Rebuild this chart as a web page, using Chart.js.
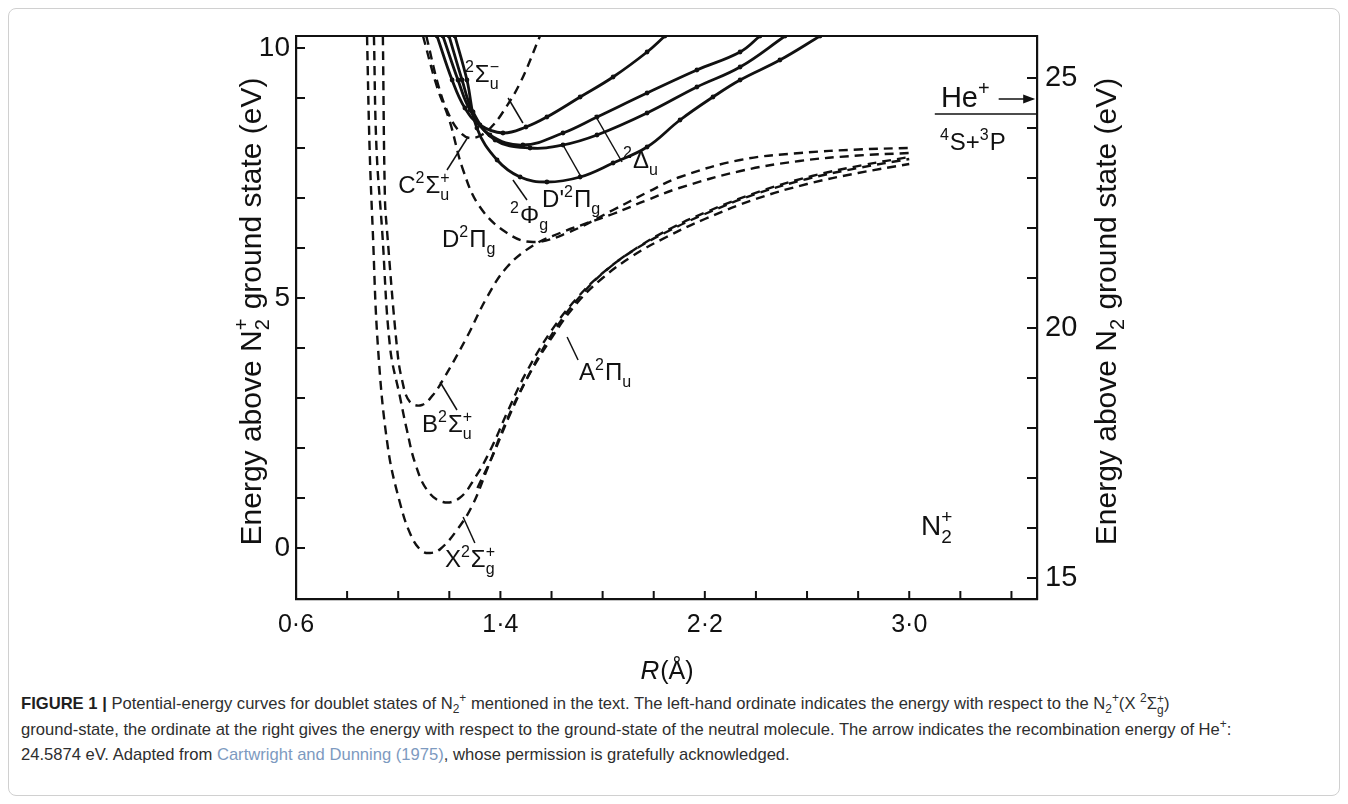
<!DOCTYPE html>
<html lang="en">
<head>
<meta charset="UTF-8">
<title>Potential-energy curves for doublet states of N2+</title>
<script src="https://cdn.jsdelivr.net/npm/chart.js@4.4.0/dist/chart.umd.js"></script>
<style>
  html, body { margin: 0; padding: 0; background: #fff; }
  body { width: 1348px; height: 804px; position: relative; overflow: hidden; font-family: "Liberation Sans", Arial, sans-serif; }
  #frame { position: absolute; left: 8px; top: 8px; width: 1332px; height: 788px; border: 1px solid #d0d0d0; border-radius: 8px; box-sizing: border-box; }
  #chart { position: absolute; left: 0; top: 0; }
  #caption { position: absolute; left: 21px; top: 691px; font-size: 16.6px; line-height: 25px; color: #2e2e2e; white-space: nowrap; }
  #caption b { color: #1f1f1f; }
  #caption a { color: #7d9ac0; text-decoration: none; }
  #caption sub, #caption sup { font-size: 72%; line-height: 0; }
  .stack { display: inline-block; vertical-align: -0.45em; line-height: 0.95em; font-size: 72%; text-align: left; }
  .stack span { display: block; }
</style>
</head>
<body>
<div id="frame"></div>
<canvas id="chart" width="1348" height="690"></canvas>
<div id="caption">
  <b>FIGURE 1 |</b> Potential-energy curves for doublet states of N<sub>2</sub><sup>+</sup> mentioned in the text. The left-hand ordinate indicates the energy with respect to the N<sub>2</sub><sup>+</sup>(X <sup>2</sup>Σ<span class="stack"><span>+</span><span>g</span></span>)<br>
  ground-state, the ordinate at the right gives the energy with respect to the ground-state of the neutral molecule. The arrow indicates the recombination energy of He<sup>+</sup>:<br>
  24.5874 eV. Adapted from <a>Cartwright and Dunning (1975)</a>, whose permission is gratefully acknowledged.
</div>

<script>
    const FONT = '"Liberation Sans", Arial, sans-serif';
    const INK = '#111';

    // axis ranges (R in Å, energy in eV above N2+ ground state)
    const rMin = 0.6, rMax = 3.5;
    const eMin = -1.02, eMax = 10.24;
    const ionOffset = 15.6;   // N2+ ground state above N2 ground state

    // tick marks and labels
    const rTicks = [0.6, 0.8, 1.0, 1.2, 1.4, 1.6, 1.8, 2.0, 2.2, 2.4, 2.6, 2.8, 3.0, 3.2, 3.4];
    const rLabelled = [0.6, 1.4, 2.2, 3.0];
    const rLabels = ['0·6', '1·4', '2·2', '3·0'];
    const eTicks = [0, 1, 2, 3, 4, 5, 6, 7, 8, 9, 10];
    const eLabelled = [0, 5, 10];
    const e2Ticks = [15, 16, 17, 18, 19, 20, 21, 22, 23, 24, 25];
    const e2Labelled = [15, 20, 25];

    // dashed curves [R, E]
    const curveX = [[0.878, 10.24], [0.888, 8.0], [0.9, 6.4], [0.921, 4.0], [0.96, 2.0], [1.007, 0.9], [1.05, 0.25],
        [1.09, -0.05], [1.125, -0.1], [1.165, -0.02], [1.23, 0.36], [1.29, 0.85], [1.35, 1.6], [1.42, 2.5],
        [1.5, 3.35], [1.6, 4.2], [1.7, 4.9], [1.8, 5.4], [1.92, 5.85], [2.05, 6.22], [2.2, 6.58], [2.4, 6.98],
        [2.6, 7.28], [2.8, 7.5], [3.0, 7.68]];
    const curveA = [[0.905, 10.24], [0.915, 8.0], [0.937, 6.36], [0.968, 4.02], [1.007, 3.02], [1.034, 2.36],
        [1.066, 1.7], [1.113, 1.16], [1.175, 0.92], [1.24, 1.0], [1.3, 1.4], [1.36, 1.95], [1.43, 2.75], [1.5, 3.5],
        [1.6, 4.35], [1.7, 5.0], [1.8, 5.5], [1.92, 5.95], [2.05, 6.32], [2.2, 6.68], [2.4, 7.08], [2.6, 7.38],
        [2.8, 7.6], [3.0, 7.78]];
    const curveA2 = [[1.31, 1.2], [1.37, 1.85], [1.44, 2.7], [1.52, 3.55], [1.62, 4.42], [1.72, 5.08], [1.82, 5.58],
        [1.94, 6.02], [2.07, 6.4], [2.22, 6.75], [2.42, 7.14], [2.62, 7.44], [2.82, 7.66], [3.0, 7.82]];
    const curveB = [[0.94, 10.24], [0.948, 7.0], [0.956, 6.36], [0.995, 4.02], [1.015, 3.36], [1.046, 2.92],
        [1.093, 2.86], [1.136, 3.06], [1.175, 3.36], [1.269, 4.22], [1.348, 5.02], [1.426, 5.62], [1.528, 6.05],
        [1.633, 6.3], [1.74, 6.5], [1.84, 6.68], [1.97, 6.95], [2.1, 7.2], [2.34, 7.54], [2.57, 7.74], [2.8, 7.85],
        [3.0, 7.9]];
    const curveD = [[1.097, 10.24], [1.152, 9.22], [1.2, 8.56], [1.254, 7.56], [1.32, 6.82], [1.426, 6.3],
        [1.528, 6.12], [1.661, 6.3], [1.841, 6.76], [1.97, 7.1], [2.103, 7.42], [2.338, 7.76], [2.573, 7.9],
        [2.8, 7.97], [3.0, 8.0]];
    const curveC = [[1.11, 10.24], [1.16, 9.2], [1.2, 8.65], [1.24, 8.33], [1.28, 8.2], [1.33, 8.27], [1.37, 8.45],
        [1.41, 8.72], [1.477, 9.3], [1.555, 10.24]];

    // solid curves with plotted points [R, E]
    const curveSigmaMinus = [[1.152, 10.24], [1.211, 9.36], [1.261, 8.8], [1.32, 8.46], [1.41, 8.3], [1.5, 8.42],
        [1.582, 8.62], [1.712, 9.02], [1.841, 9.42], [1.974, 9.92], [2.044, 10.24]];
    const curveDelta = [[1.175, 10.24], [1.234, 9.36], [1.281, 8.76], [1.359, 8.26], [1.488, 8.06], [1.645, 8.3],
        [1.778, 8.62], [1.974, 9.1], [2.169, 9.56], [2.338, 9.92], [2.416, 10.24]];
    const curveDPrime = [[1.199, 10.24], [1.25, 9.36], [1.293, 8.72], [1.379, 8.16], [1.516, 8.0], [1.645, 8.06],
        [1.778, 8.26], [1.974, 8.7], [2.169, 9.22], [2.338, 9.62], [2.514, 10.24]];
    const curvePhi = [[1.222, 10.24], [1.269, 9.36], [1.308, 8.4], [1.387, 7.76], [1.477, 7.42], [1.582, 7.32],
        [1.712, 7.42], [1.841, 7.7], [1.974, 8.02], [2.103, 8.56], [2.232, 9.02], [2.338, 9.36], [2.494, 9.76],
        [2.651, 10.24]];

    // thin leader lines from labels to curves
    const leaders = [
        [[1.43, 9.0], [1.488, 8.5]],
        [[1.77, 8.66], [1.876, 7.72]],
        [[1.645, 8.06], [1.716, 7.42]],
        [[1.449, 7.36], [1.504, 6.96]],
        [[1.191, 7.56], [1.273, 8.22]],
        [[1.164, 3.32], [1.23, 2.76]],
        [[1.661, 4.22], [1.704, 3.76]],
        [[1.254, 0.62], [1.3, 0.1]]
    ];

    // He+ recombination energy and the 4S + 3P asymptote
    const heArrow = [[3.35, 8.98], [3.485, 8.98]];
    const asymptote = [[3.1, 8.68], [3.5, 8.68]];

    // state labels: parts are [text] or [text, 'sup'] or [text, 'sub', stackedSup]
    const stateLabels = [
        [['2', 'sup'], ['Σ'], ['u', 'sub', '−']],
        [['2', 'sup'], ['Δ'], ['u', 'sub']],
        [['D\''], ['2', 'sup'], ['Π'], ['g', 'sub']],
        [['2', 'sup'], ['Φ'], ['g', 'sub']],
        [['C'], ['2', 'sup'], ['Σ'], ['u', 'sub', '+']],
        [['D'], ['2', 'sup'], ['Π'], ['g', 'sub']],
        [['B'], ['2', 'sup'], ['Σ'], ['u', 'sub', '+']],
        [['A'], ['2', 'sup'], ['Π'], ['u', 'sub']],
        [['X'], ['2', 'sup'], ['Σ'], ['g', 'sub', '+']],
        [['N'], ['2', 'sub', '+']],
        [['He'], ['+', 'sup']],
        [['4', 'sup'], ['S'], ['+'], ['3', 'sup'], ['P']]
    ];
    const stateLabelAt = [[1.261, 9.32], [1.88, 7.6], [1.563, 6.82], [1.438, 6.5], [1.0, 7.1], [1.171, 6.02],
        [1.093, 2.32], [1.708, 3.36], [1.183, -0.38], [3.046, 0.26], [3.124, 8.82], [3.12, 7.96]];
    const stateLabelSize = [24, 24, 24, 24, 24, 24, 24, 24, 24, 28, 29, 24];

    const toXY = pts => pts.map(p => ({ x: p[0], y: p[1] }));

    function dashed(pts) {
        return { data: toXY(pts), showLine: true, borderColor: INK, borderWidth: 2.4, borderDash: [9, 6],
            pointRadius: 0, tension: 0.4 };
    }
    function solid(pts) {
        return { data: toXY(pts), showLine: true, borderColor: INK, borderWidth: 2.8, pointRadius: 2.4,
            pointBackgroundColor: INK, pointBorderWidth: 0, tension: 0.4 };
    }
    function thin(pts) {
        return { data: toXY(pts), showLine: true, borderColor: INK, borderWidth: 1.5, pointRadius: 0, tension: 0 };
    }

    const datasets = [
        dashed(curveX), dashed(curveA), dashed(curveA2), dashed(curveB), dashed(curveD), dashed(curveC),
        solid(curveSigmaMinus), solid(curveDelta), solid(curveDPrime), solid(curvePhi),
        thin(asymptote), thin(heArrow)
    ].concat(leaders.map(thin));

    // draws text with super/subscripts, returns its width
    function richText(ctx, parts, x, y, size, draw) {
        const small = Math.round(size * 0.68);
        let cx = x;
        for (const [t, kind, t2] of parts) {
            if (!kind) {
                ctx.font = size + 'px ' + FONT;
                if (draw) ctx.fillText(t, cx, y);
                cx += ctx.measureText(t).width;
            } else if (kind === 'sup') {
                ctx.font = small + 'px ' + FONT;
                if (draw) ctx.fillText(t, cx, y - size * 0.42);
                cx += ctx.measureText(t).width + 1;
            } else {
                ctx.font = small + 'px ' + FONT;
                if (draw) ctx.fillText(t, cx, y + size * 0.28);
                let w = ctx.measureText(t).width;
                if (t2) {
                    if (draw) ctx.fillText(t2, cx, y - size * 0.42);
                    w = Math.max(w, ctx.measureText(t2).width);
                }
                cx += w + 1;
            }
        }
        return cx - x;
    }

    function rotatedTitle(ctx, parts, cx, cy, size) {
        ctx.save();
        ctx.translate(cx, cy);
        ctx.rotate(-Math.PI / 2);
        const w = richText(ctx, parts, 0, 0, size, false);
        richText(ctx, parts, -w / 2, size * 0.36, size, true);
        ctx.restore();
    }

    const decorations = {
        id: 'decorations',
        afterDatasetsDraw(chart) {
            const { ctx, chartArea: a, scales } = chart;
            const sx = scales.x, sy = scales.y, sy2 = scales.y2;
            ctx.save();
            ctx.strokeStyle = INK;
            ctx.fillStyle = INK;
            ctx.lineWidth = 2.2;

            // top frame line
            ctx.beginPath();
            ctx.moveTo(a.left, a.top);
            ctx.lineTo(a.right, a.top);
            ctx.stroke();

            // inward tick marks
            ctx.lineWidth = 2;
            ctx.beginPath();
            rTicks.forEach(v => {
                const px = sx.getPixelForValue(v);
                ctx.moveTo(px, a.bottom);
                ctx.lineTo(px, a.bottom - 8);
            });
            eTicks.forEach(v => {
                const py = sy.getPixelForValue(v);
                ctx.moveTo(a.left, py);
                ctx.lineTo(a.left + 9, py);
            });
            e2Ticks.forEach(v => {
                const py = sy2.getPixelForValue(v);
                ctx.moveTo(a.right, py);
                ctx.lineTo(a.right - 10, py);
            });
            ctx.stroke();

            // arrow head for He+
            const ax = sx.getPixelForValue(heArrow[1][0]);
            const ay = sy.getPixelForValue(heArrow[1][1]);
            ctx.beginPath();
            ctx.moveTo(ax + 2, ay);
            ctx.lineTo(ax - 10, ay - 4.5);
            ctx.lineTo(ax - 10, ay + 4.5);
            ctx.closePath();
            ctx.fill();

            // state labels
            ctx.textBaseline = 'alphabetic';
            ctx.textAlign = 'left';
            stateLabels.forEach((parts, i) => {
                const [r, e] = stateLabelAt[i];
                richText(ctx, parts, sx.getPixelForValue(r), sy.getPixelForValue(e), stateLabelSize[i], true);
            });

            // axis titles
            const midY = (a.top + a.bottom) / 2 - 6;
            rotatedTitle(ctx, [['Energy above N'], ['2', 'sub', '+'], [' ground state (eV)']], a.left - 46, midY, 30);
            rotatedTitle(ctx, [['Energy above N'], ['2', 'sub'], [' ground state (eV)']], a.right + 68, midY, 30);

            ctx.font = 'italic 26px ' + FONT;
            const rw = ctx.measureText('R').width;
            ctx.font = '25px ' + FONT;
            const pw = ctx.measureText('(Å)').width;
            const tx = (a.left + a.right) / 2 - (rw + pw) / 2;
            ctx.font = 'italic 26px ' + FONT;
            ctx.fillText('R', tx, a.bottom + 80);
            ctx.font = '25px ' + FONT;
            ctx.fillText('(Å)', tx + rw + 1, a.bottom + 80);
            ctx.restore();
        }
    };

    function pick(values, labels) {
        return v => {
            const i = values.findIndex(t => Math.abs(t - v) < 1e-6);
            return i >= 0 ? String(labels[i]) : '';
        };
    }

    new Chart(document.getElementById('chart'), {
        type: 'scatter',
        data: { datasets: datasets },
        options: {
            responsive: false,
            animation: false,
            events: [],
            layout: { padding: { top: 36, left: 0, right: 0, bottom: 0 } },
            plugins: { legend: { display: false }, tooltip: { enabled: false } },
            scales: {
                x: {
                    type: 'linear', position: 'bottom', min: rMin, max: rMax,
                    afterBuildTicks: s => { s.ticks = rTicks.map(v => ({ value: v })); },
                    afterFit: s => { s.height = 91; },
                    grid: { display: false, drawTicks: false },
                    border: { display: true, color: INK, width: 2.2 },
                    ticks: { autoSkip: false, maxRotation: 0, padding: 11, color: INK,
                        font: { family: FONT, size: 25 }, callback: pick(rLabelled, rLabels) }
                },
                y: {
                    type: 'linear', position: 'left', min: eMin, max: eMax,
                    afterBuildTicks: s => { s.ticks = eTicks.map(v => ({ value: v })); },
                    afterFit: s => { s.width = 296; },
                    grid: { display: false, drawTicks: false },
                    border: { display: true, color: INK, width: 2.2 },
                    ticks: { autoSkip: false, padding: 6, color: INK,
                        font: { family: FONT, size: 28 }, callback: pick(eLabelled, eLabelled) }
                },
                y2: {
                    type: 'linear', position: 'right', min: eMin + ionOffset, max: eMax + ionOffset,
                    afterBuildTicks: s => { s.ticks = e2Ticks.map(v => ({ value: v })); },
                    afterFit: s => { s.width = 311; },
                    grid: { display: false, drawTicks: false },
                    border: { display: true, color: INK, width: 2.2 },
                    ticks: { autoSkip: false, padding: 8, color: INK,
                        font: { family: FONT, size: 29 }, callback: pick(e2Labelled, e2Labelled) }
                }
            }
        },
        plugins: [decorations]
    });
</script>
</body>
</html>
